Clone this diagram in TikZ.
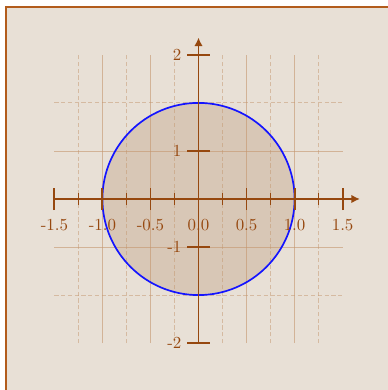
\documentclass[tikz,border=0pt]{standalone}
\usepackage{tikz}
\usetikzlibrary{arrows.meta}
\definecolor{colFrame}{RGB}{178,92,28}
\definecolor{colBack}{RGB}{232,224,214}
\definecolor{colAxis}{RGB}{150,72,15}
\definecolor{colGrid}{RGB}{196,150,110}
\definecolor{colDisk}{RGB}{216,199,182}
\definecolor{colCircle}{RGB}{20,20,255}

\begin{document}
\begin{tikzpicture}[
            x=2cm, y=2cm,
            axis/.style={draw=colAxis, line width=1.1pt, -{Latex[length=5pt, width=5pt]}},
            majortick/.style={draw=colAxis, line width=1.1pt},
            minortick/.style={draw=colAxis, line width=0.8pt},
            gridfull/.style={draw=colGrid, draw opacity=0.6, line width=0.5pt},
            gridhalf/.style={draw=colGrid, draw opacity=0.5, line width=0.5pt, dash pattern=on 2.5pt off 1.5pt},
            lbl/.style={text=colAxis, inner sep=2pt}
        ]
        \useasboundingbox (-2.066,-1.988) rectangle (1.962,2.071);

        %% ── CADRE ──────────────────────────────────────────
        \draw[fill=colBack, draw=colFrame, line width=1pt] (-2,-2) rectangle (2,2);

        %% ── DISQUE ─────────────────────────────────────────
        \fill[colDisk] (0,0) circle (1);

        %% ── GRILLE ─────────────────────────────────────────
        \draw[gridhalf] (-1.25,-1.5) -- (-1.25,1.5);
        \draw[gridfull] (-1,-1.5) -- (-1,1.5);
        \draw[gridhalf] (-0.75,-1.5) -- (-0.75,1.5);
        \draw[gridfull] (-0.5,-1.5) -- (-0.5,1.5);
        \draw[gridhalf] (-0.25,-1.5) -- (-0.25,1.5);
        \draw[gridhalf] (0.25,-1.5) -- (0.25,1.5);
        \draw[gridfull] (0.5,-1.5) -- (0.5,1.5);
        \draw[gridhalf] (0.75,-1.5) -- (0.75,1.5);
        \draw[gridfull] (1,-1.5) -- (1,1.5);
        \draw[gridhalf] (1.25,-1.5) -- (1.25,1.5);

        \draw[gridhalf] (-1.5,1) -- (1.5,1);
        \draw[gridfull] (-1.5,0.5) -- (1.5,0.5);
        \draw[gridfull] (-1.5,-0.5) -- (1.5,-0.5);
        \draw[gridhalf] (-1.5,-1) -- (1.5,-1);

        %% ── CERCLE ─────────────────────────────────────────
        \draw[colCircle, line width=1pt] (0,0) circle (1);

        %% ── AXES ───────────────────────────────────────────
        \coordinate (xstart) at (-1.5,0);
        \coordinate (xend) at (1.68,0);
        \coordinate (ystart) at (0,-1.5);
        \coordinate (yend) at (0,1.68);

        \draw[axis] (xstart) -- (xend);
        \draw[axis] (ystart) -- (yend);

        % graduations en x
        \draw[majortick] (-1.5,-0.115) -- (-1.5,0.115);
        \draw[minortick] (-1.25,-0.06) -- (-1.25,0.06);
        \draw[majortick] (-1,-0.115) -- (-1,0.115);
        \draw[minortick] (-0.75,-0.06) -- (-0.75,0.06);
        \draw[majortick] (-0.5,-0.115) -- (-0.5,0.115);
        \draw[minortick] (-0.25,-0.06) -- (-0.25,0.06);
        \draw[minortick] (0.25,-0.06) -- (0.25,0.06);
        \draw[majortick] (0.5,-0.115) -- (0.5,0.115);
        \draw[minortick] (0.75,-0.06) -- (0.75,0.06);
        \draw[majortick] (1,-0.115) -- (1,0.115);
        \draw[minortick] (1.25,-0.06) -- (1.25,0.06);
        \draw[majortick] (1.5,-0.115) -- (1.5,0.115);

        % graduations en y
        \draw[majortick] (-0.115,1.5) -- (0.115,1.5);
        \draw[majortick] (-0.115,0.5) -- (0.115,0.5);
        \draw[majortick] (-0.115,-0.5) -- (0.115,-0.5);
        \draw[majortick] (-0.115,-1.5) -- (0.115,-1.5);

        %% ── ÉTIQUETTES ─────────────────────────────────────
        \node[lbl, anchor=north] (xl_m15) at (-1.5,-0.17) {-1.5};
        \node[lbl, anchor=north] (xl_m10) at (-1,-0.17) {-1.0};
        \node[lbl, anchor=north] (xl_m05) at (-0.5,-0.17) {-0.5};
        \node[lbl, anchor=north] (xl_00) at (0,-0.17) {0.0};
        \node[lbl, anchor=north] (xl_05) at (0.5,-0.17) {0.5};
        \node[lbl, anchor=north] (xl_10) at (1,-0.17) {1.0};
        \node[lbl, anchor=north] (xl_15) at (1.5,-0.17) {1.5};

        \node[lbl, anchor=east] (yl_2) at (-0.14,1.5) {2};
        \node[lbl, anchor=east] (yl_1) at (-0.14,0.5) {1};
        \node[lbl, anchor=east] (yl_m1) at (-0.14,-0.5) {-1};
        \node[lbl, anchor=east] (yl_m2) at (-0.14,-1.5) {-2};

\end{tikzpicture}
\end{document}
